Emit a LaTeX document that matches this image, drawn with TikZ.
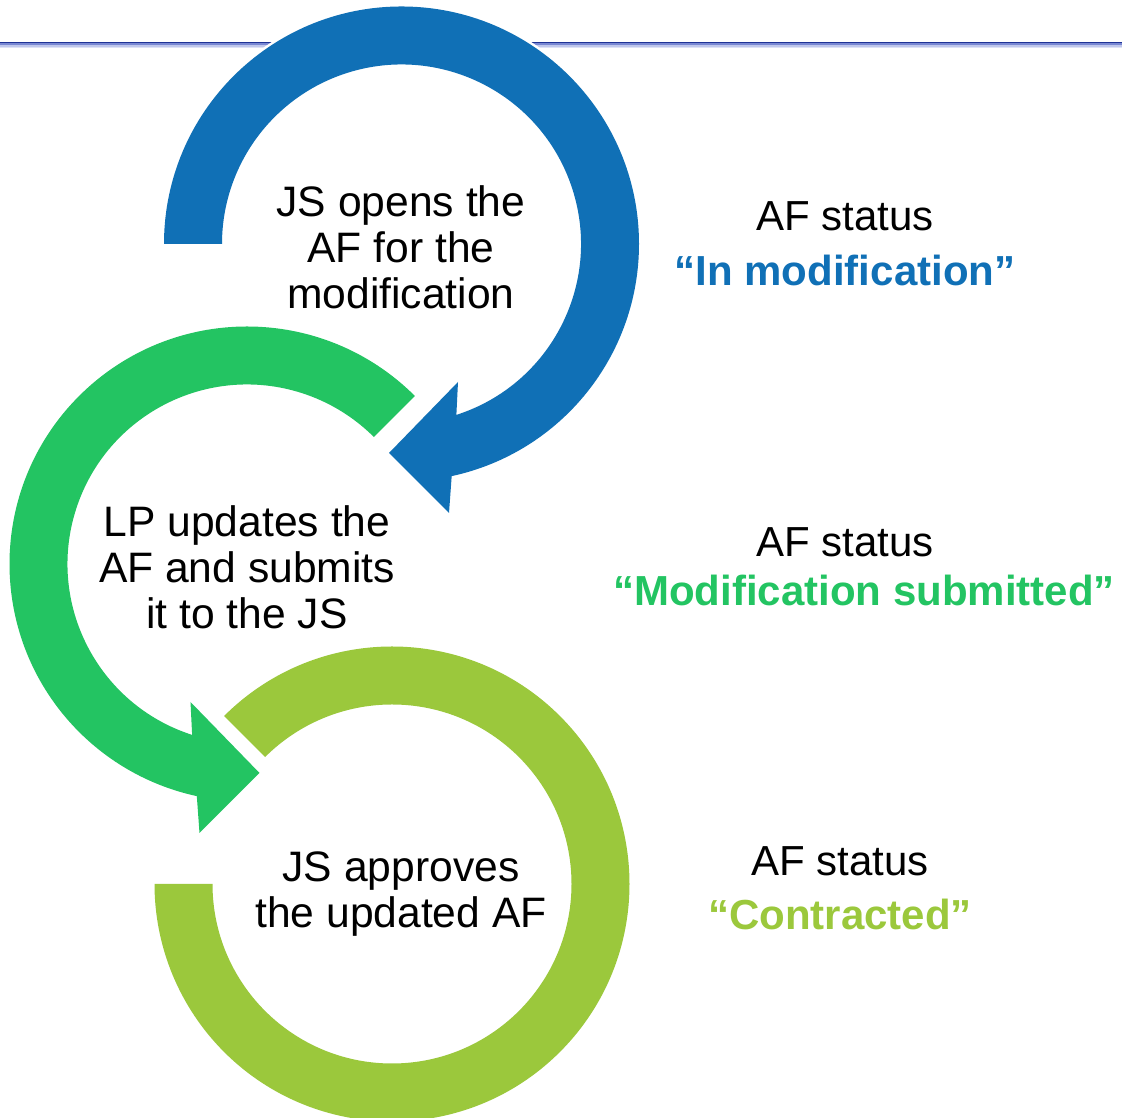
\documentclass[tikz,border=0pt]{standalone}
\usepackage{fontspec}
\setmainfont{Liberation Sans}
\definecolor{cblue}{RGB}{16,112,182}
\definecolor{cgreen}{RGB}{35,196,98}
\definecolor{clgreen}{RGB}{155,200,60}
\definecolor{ln1}{RGB}{30,50,150}
\definecolor{ln2}{RGB}{120,135,210}
\definecolor{ln3}{RGB}{190,198,235}
\definecolor{ln4}{RGB}{222,226,246}
\begin{document}
\begin{tikzpicture}[x=1pt,y=1pt,
  ring/.style={preaction={draw=white,line width=5pt},line join=miter},
  mid/.style={anchor=base,inner sep=0pt,font=\fontsize{42.6}{46}\selectfont},
  stat/.style={anchor=base,inner sep=0pt,font=\fontsize{42}{46}\selectfont},
  statb/.style={anchor=base,inner sep=0pt,font=\fontsize{42}{46}\selectfont\bfseries}]
\useasboundingbox (0,0) rectangle (1122,1118);
\clip (0,0) rectangle (1122,1118);
% top rule
\draw[ln1,line width=1.6pt] (0,1075.5) -- (1122,1075.5);
\draw[ln2,line width=1.8pt] (0,1073.8) -- (1122,1073.8);
\draw[ln3,line width=2pt] (0,1071.9) -- (1122,1071.9);
\draw[ln4,line width=1.4pt] (0,1070.2) -- (1122,1070.2);
% blue arrow
\fill[cblue,ring,shift={(401.5,874)}]
  (180:237.5) arc[start angle=180,end angle=-77.8,radius=237.5]
  -- (47.5,-269) -- (-12.5,-209) -- (56.5,-138)
  -- (-72.2:179.5) arc[start angle=-72.2,end angle=180,radius=179.5] -- cycle;
% green arrow
\fill[cgreen,ring,shift={(247,554)}]
  (45:237.5) arc[start angle=45,end angle=257.8,radius=237.5]
  -- (-47.5,-269) -- (12.5,-209) -- (-56.5,-138)
  -- (252.2:179.5) arc[start angle=252.2,end angle=45,radius=179.5] -- cycle;
% light green ring
\fill[clgreen,ring,shift={(392,234)}]
  (135:237.5) arc[start angle=135,end angle=-180,radius=237.5]
  -- (180:179.5) arc[start angle=-180,end angle=135,radius=179.5] -- cycle;
% centre texts
\node[mid] (a1) at (401,901) {JS opens the};
\node[mid] (a2) at (401,855) {AF for the};
\node[mid] (a3) at (401,809) {modification};
\node[mid] (b1) at (247,581) {LP updates the};
\node[mid] (b2) at (247,535) {AF and submits};
\node[mid] (b3) at (247,489) {it to the JS};
\node[mid] (c1) at (401,236) {JS approves};
\node[mid] (c2) at (401,190) {the updated AF};
% status texts
\node[stat] (s1) at (845,887) {AF status};
\node[statb,text=cblue] (v1) at (845,832) {“In modification”};
\node[stat] (s2) at (845,561) {AF status};
\node[statb,text=cgreen] (v2) at (864,512) {“Modification submitted”};
\node[stat] (s3) at (840,242) {AF status};
\node[statb,text=clgreen] (v3) at (840,188) {“Contracted”};
\end{tikzpicture}
\end{document}
